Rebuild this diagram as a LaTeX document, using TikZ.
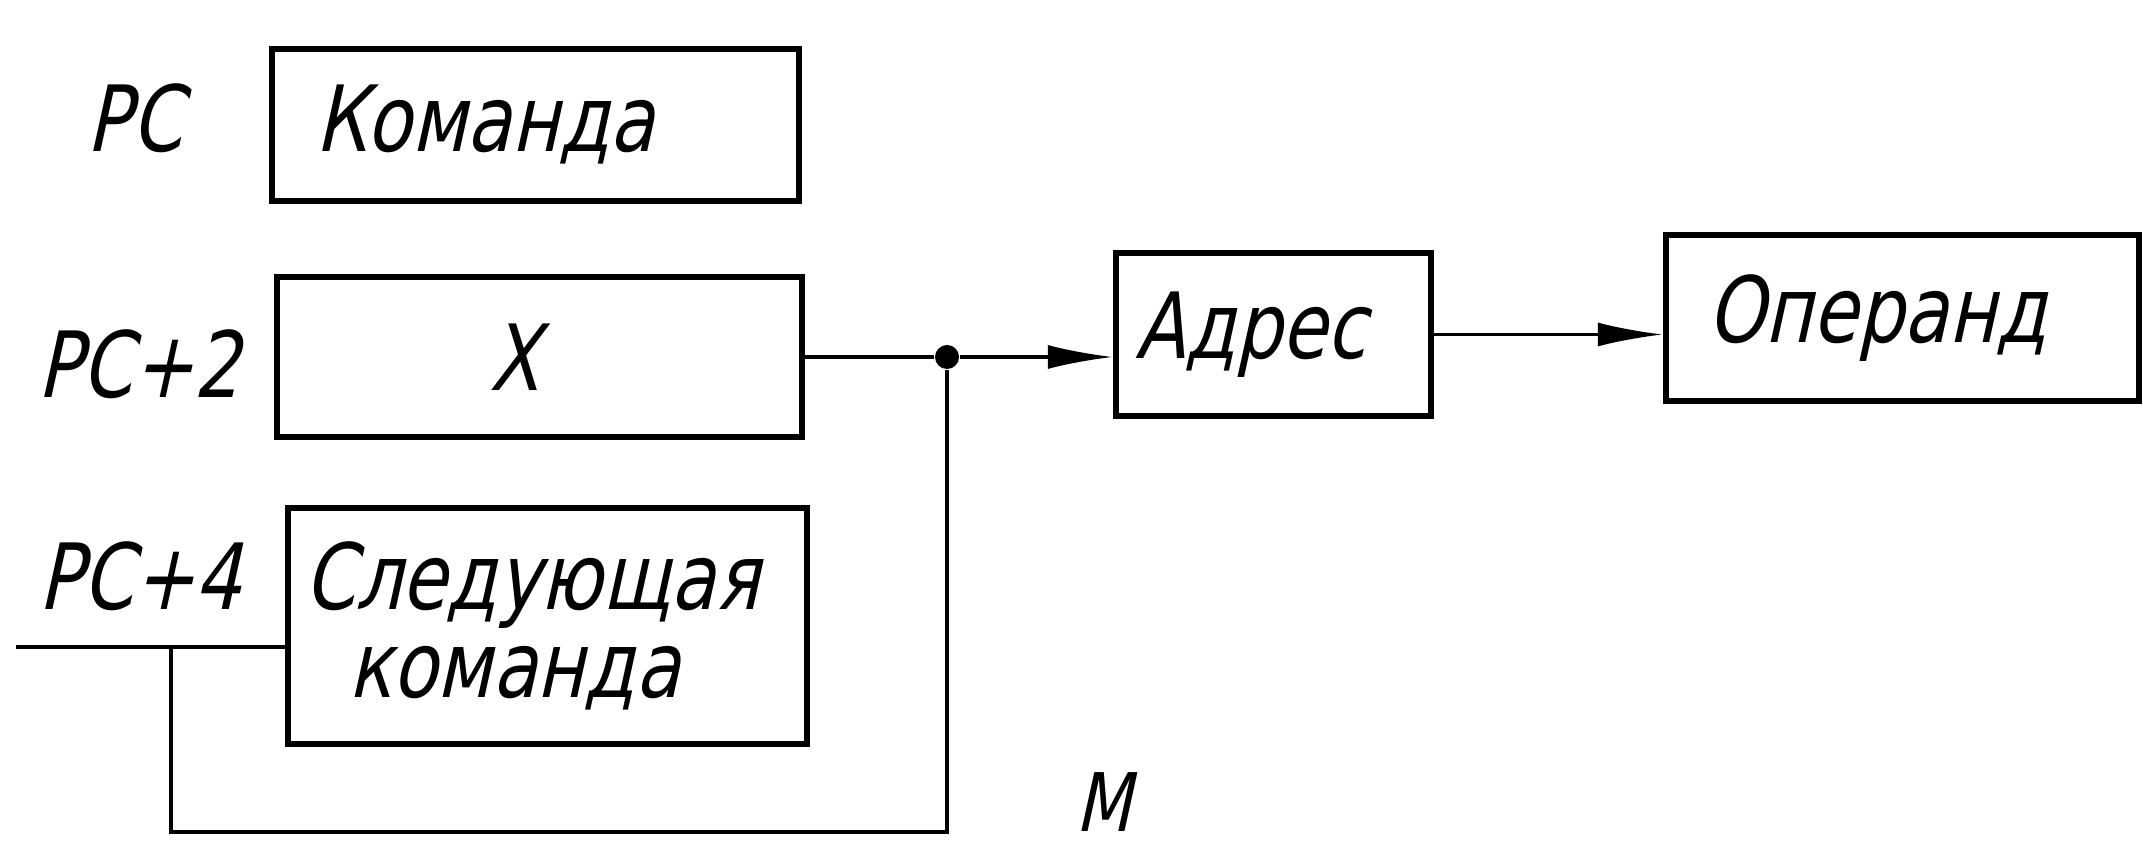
\documentclass[tikz,border=0pt]{standalone}
\usepackage{fontspec}
\newfontfamily\gostfont{DejaVu Sans}[FakeStretch=0.8,FakeSlant=0.22]
\usetikzlibrary{arrows.meta}
\begin{document}
\begin{tikzpicture}[
        bloc/.style={draw, line width=1.8pt, inner ysep=0pt, align=left, font=\gostfont\fontsize{26}{25}\selectfont},
        etiq/.style={inner sep=0pt, font=\gostfont\fontsize{26}{25}\selectfont},
        fil/.style={line width=0.9pt},
        filepais/.style={line width=1.4pt},
        fleche/.style={line width=0.9pt, -{Latex[length=6.5mm,width=2.4mm]}}]
        \useasboundingbox (0,0) rectangle (21.43,8.52);
        \node[bloc, minimum height=1.52cm, inner xsep=0.43cm, text width=4.41cm] (kom) at (5.355,7.27) {Команда}; %commande
        \node[bloc, minimum height=1.60cm, minimum width=5.25cm, align=center] (xb) at (5.395,4.95) {X\hspace*{0.5cm}}; %X
        \node[bloc, minimum height=2.36cm, inner xsep=0.16cm, text width=4.87cm] (sc) at (5.475,2.26) {Следующая\\\hspace*{0.44cm}команда}; %suivante
        \node[bloc, minimum height=1.63cm, inner xsep=0.19cm, text width=2.77cm] (adr) at (12.735,5.175) {Адрес}; %adresse
        \node[bloc, minimum height=1.66cm, inner xsep=0.41cm, text width=3.91cm] (op) at (19.025,5.34) {Операнд}; %operande
        \node[etiq] (lpc) at (1.345,7.34) {PC};
        \node[etiq] (lpc2) at (1.385,4.88) {PC+2};
        \node[etiq] (lpc4) at (1.40,2.76) {PC+4};
        \node[etiq, anchor=north, font=\gostfont\fontsize{23}{25}\selectfont] (lm) at (11.03,0.8) {M};
        \node[circle, fill, inner sep=0pt, minimum size=0.24cm] (noeud) at (9.47,4.95) {}; %jonction
        \coordinate (entree) at (0.16,2.05);
        \coordinate (coin) at (1.71,2.05);
        \coordinate (bas) at (9.47,0.2);
        \draw[fil] (xb.east) -- (noeud);
        \draw[fleche] (noeud) -- (noeud -| adr.west);
        \draw[fleche] (adr.east) -- (adr.east -| op.west);
        \draw[filepais] (entree) -- (entree -| sc.west);
        \draw[filepais] (coin) |- (bas) -- (noeud); %retour
    \end{tikzpicture}
\end{document}
